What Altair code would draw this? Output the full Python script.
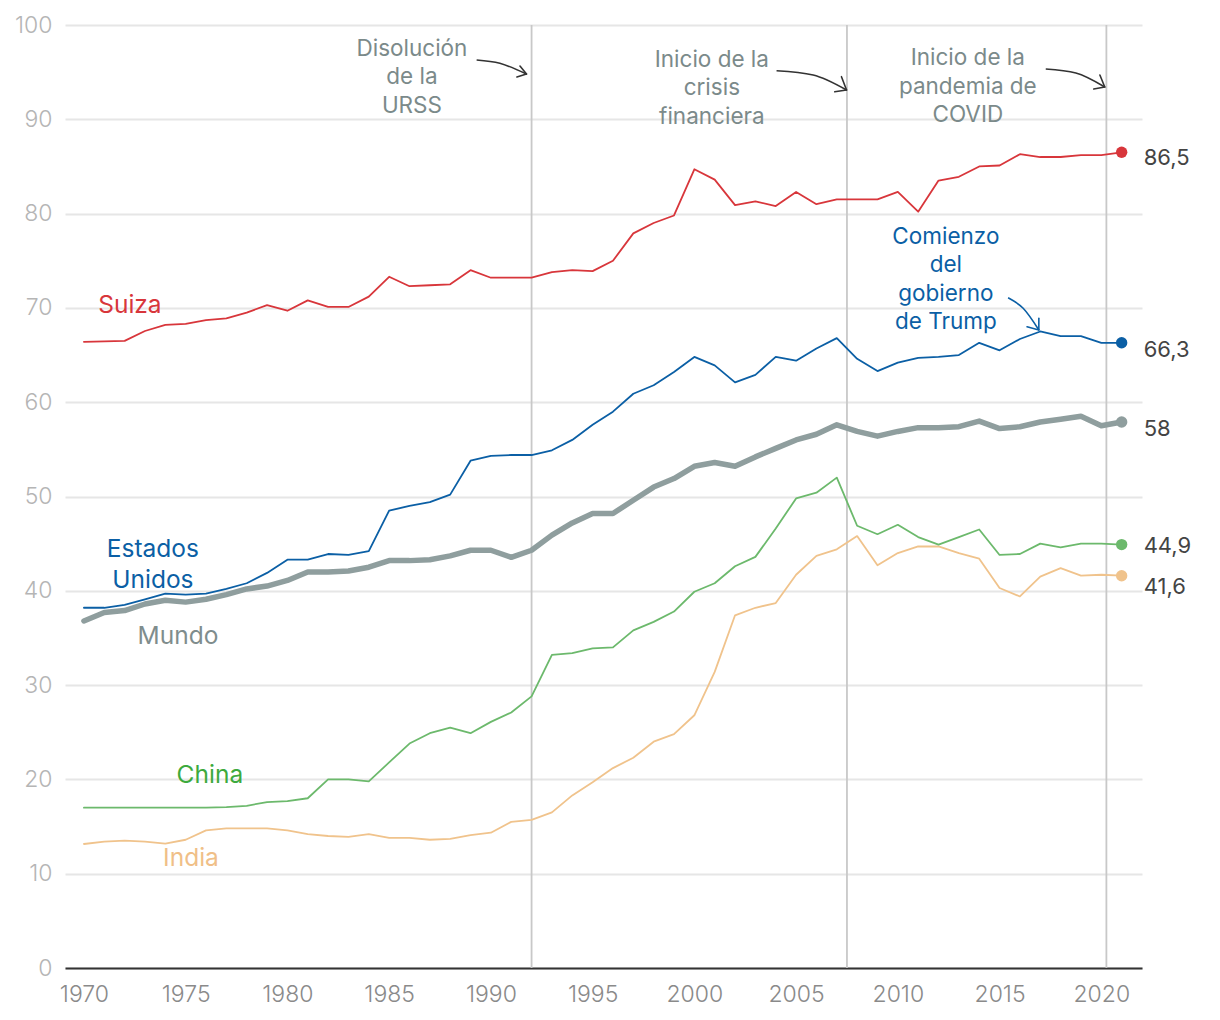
import altair as alt
import pandas as pd

years = list(range(1970, 2022))

suiza = [66.4, 66.45, 66.5, 67.55, 68.2, 68.3, 68.7, 68.9, 69.5, 70.3,
         69.7, 70.8, 70.1, 70.1, 71.2, 73.3, 72.3, 72.4, 72.5, 74.0,
         73.2, 73.2, 73.2, 73.8, 74.0, 73.9, 75.0, 77.9, 79.0, 79.8,
         84.7, 83.6, 80.9, 81.3, 80.8, 82.3, 81.0, 81.5, 81.5, 81.5,
         82.3, 80.2, 83.5, 83.9, 85.0, 85.1, 86.3, 86.0, 86.0, 86.2,
         86.2, 86.5]
usa = [38.2, 38.2, 38.5, 39.1, 39.7, 39.6, 39.7, 40.2, 40.8, 41.9,
       43.3, 43.3, 43.9, 43.8, 44.2, 48.5, 49.0, 49.4, 50.2, 53.8,
       54.3, 54.4, 54.4, 54.9, 56.0, 57.6, 59.0, 60.9, 61.8, 63.2,
       64.8, 63.9, 62.1, 62.9, 64.8, 64.4, 65.7, 66.8, 64.6, 63.3,
       64.2, 64.7, 64.8, 65.0, 66.3, 65.5, 66.7, 67.5, 67.0, 67.0,
       66.3, 66.3]
mundo = [36.8, 37.7, 37.9, 38.6, 39.0, 38.8, 39.1, 39.6, 40.2, 40.5,
         41.1, 42.0, 42.0, 42.1, 42.5, 43.2, 43.2, 43.3, 43.7, 44.3,
         44.3, 43.55, 44.3, 45.9, 47.2, 48.2, 48.2, 49.6, 51.0, 51.9,
         53.2, 53.6, 53.2, 54.2, 55.1, 56.0, 56.6, 57.6, 56.9, 56.4,
         56.9, 57.3, 57.3, 57.4, 58.0, 57.2, 57.4, 57.9, 58.2, 58.5,
         57.5, 57.9]
china = [17.0, 17.0, 17.0, 17.0, 17.0, 17.0, 17.0, 17.05, 17.2, 17.6,
         17.7, 18.0, 20.0, 20.0, 19.8, 21.8, 23.8, 24.9, 25.5, 24.9,
         26.1, 27.1, 28.8, 33.2, 33.4, 33.9, 34.0, 35.8, 36.7, 37.8,
         39.9, 40.8, 42.6, 43.6, 46.6, 49.8, 50.4, 52.0, 46.9, 46.0,
         47.0, 45.7, 44.9, 45.7, 46.5, 43.8, 43.9, 45.0, 44.6, 45.0,
         45.0, 44.9]
india = [13.15, 13.4, 13.5, 13.4, 13.2, 13.6, 14.6, 14.8, 14.8, 14.8,
         14.6, 14.2, 14.0, 13.9, 14.2, 13.8, 13.8, 13.6, 13.7, 14.1,
         14.35, 15.5, 15.7, 16.5, 18.3, 19.7, 21.2, 22.3, 24.0, 24.8,
         26.8, 31.4, 37.4, 38.2, 38.7, 41.7, 43.7, 44.4, 45.8, 42.7,
         44.0, 44.7, 44.7, 44.0, 43.4, 40.3, 39.4, 41.5, 42.4, 41.6,
         41.7, 41.6]

end_labels = ["86,5", "66,3", "58", "44,9", "41,6"]

series_names = ["India", "China", "Mundo", "Estados Unidos", "Suiza"]
series_values = [india, china, mundo, usa, suiza]
series_colors = ["#f0c38c", "#6cb96c", "#8f9e9e", "#0b5fa5", "#d8363b"]
label_colors = ["#f0bf88", "#3daa3d", "#7f8d8d", "#0b5fa5", "#d8363b"]
series_widths = [1.8, 1.8, 5.5, 1.8, 1.8]

# series name labels: text, year, value (value = first line centre)
name_text = ["India", "China", "Mundo", "Estados\nUnidos", "Suiza"]
name_year = [1975.26, 1976.19, 1974.62, 1973.39, 1972.26]
name_val = [11.56, 20.36, 35.1, 44.33, 70.2]

# events
event_years = [1992.0, 2007.5, 2020.25]
event_text = ["Disolución\nde la\nURSS", "Inicio de la\ncrisis\nfinanciera",
              "Inicio de la\npandemia de\nCOVID"]
event_text_year = [1986.12, 2000.86, 2013.44]
event_text_val = [97.46, 96.29, 96.50]

trump_text = "Comienzo\ndel\ngobierno\nde Trump"
trump_year = 2012.36
trump_val = 77.52

# arrows: curve points (year, value), arrowhead arms
arrow_curves = [
    [(1989.30, 96.29), (1990.44, 95.94), (1991.75, 94.80)],
    [(2004.04, 95.15), (2005.84, 94.70), (2007.48, 93.11)],
    [(2017.27, 95.33), (2018.75, 94.91), (2020.17, 93.43)],
    [(2015.42, 71.08), (2016.16, 69.96), (2016.93, 67.66)],
]
arrow_arms = [
    [(1991.43, 95.65), (1991.28, 94.49)],
    [(2007.23, 94.52), (2006.90, 92.92)],
    [(2019.93, 94.70), (2019.63, 93.21)],
    [(2016.93, 68.90), (2016.35, 68.00)],
]
arrow_colors = ["#333333", "#333333", "#333333", "#0b5fa5"]

FONT = "Inter"
X_DOMAIN = [1969.07, 2022.0]

xs = alt.Scale(domain=X_DOMAIN, nice=False, zero=False)
ys = alt.Scale(domain=[0, 100], nice=False)

x_axis = alt.Axis(values=list(range(1970, 2021, 5)), format="d", title=None,
                  labelFont=FONT, labelFontSize=23, labelFontWeight=300,
                  labelColor="#8a8a8a", domainColor="#333333", domainWidth=2,
                  ticks=False, grid=False, labelPadding=15, labelFlush=False)
y_axis = alt.Axis(values=list(range(0, 101, 10)), title=None,
                  labelFont=FONT, labelFontSize=23, labelFontWeight=300,
                  labelColor="#b5b5b5", ticks=False, domain=False,
                  grid=True, gridColor="#e6e6e6", gridWidth=2, labelPadding=13)

layers = []

base_df = pd.DataFrame({"year": years, "v": mundo})
layers.append(
    alt.Chart(base_df).mark_point(opacity=0).encode(
        x=alt.X("year:Q", scale=xs, axis=x_axis),
        y=alt.Y("v:Q", scale=ys, axis=y_axis),
    )
)

layers.append(
    alt.Chart(pd.DataFrame({"year": event_years})).mark_rule(
        color="#c8c8c8", strokeWidth=1.8
    ).encode(x=alt.X("year:Q", scale=xs), y=alt.value(0), y2=alt.value(943))
)

for name, vals, col, w in zip(series_names, series_values, series_colors, series_widths):
    df = pd.DataFrame({"year": years, "v": vals})
    layers.append(
        alt.Chart(df).mark_line(color=col, strokeWidth=w, strokeJoin="round",
                                strokeCap="round").encode(
            x=alt.X("year:Q", scale=xs), y=alt.Y("v:Q", scale=ys))
    )
    last = pd.DataFrame({"year": [years[-1]], "v": [vals[-1]]})
    layers.append(
        alt.Chart(last).mark_circle(color=col, opacity=1, size=130).encode(
            x=alt.X("year:Q", scale=xs), y=alt.Y("v:Q", scale=ys))
    )

end_order = [4, 3, 2, 1, 0]
end_dy = [6, 7, 7, 1, 11]
for lab, idx, dy in zip(end_labels, end_order, end_dy):
    df = pd.DataFrame({"year": [years[-1]], "v": [series_values[idx][-1]], "t": [lab]})
    layers.append(
        alt.Chart(df).mark_text(align="left", baseline="middle", dx=22, dy=dy,
                                font=FONT, fontSize=22, color="#444444").encode(
            x=alt.X("year:Q", scale=xs), y=alt.Y("v:Q", scale=ys), text="t:N")
    )

for t, yr, v, col in zip(name_text, name_year, name_val, label_colors):
    df = pd.DataFrame({"year": [yr], "v": [v], "t": [t]})
    layers.append(
        alt.Chart(df).mark_text(align="center", baseline="middle", font=FONT,
                                fontSize=24.5, color=col, lineBreak="\n",
                                lineHeight=31).encode(
            x=alt.X("year:Q", scale=xs), y=alt.Y("v:Q", scale=ys), text="t:N")
    )

for t, yr, v in zip(event_text, event_text_year, event_text_val):
    df = pd.DataFrame({"year": [yr], "v": [v], "t": [t]})
    layers.append(
        alt.Chart(df).mark_text(align="center", baseline="middle", font=FONT,
                                fontSize=22.5, color="#7b8a8a", lineBreak="\n",
                                lineHeight=28.5).encode(
            x=alt.X("year:Q", scale=xs), y=alt.Y("v:Q", scale=ys), text="t:N")
    )

df = pd.DataFrame({"year": [trump_year], "v": [trump_val], "t": [trump_text]})
layers.append(
    alt.Chart(df).mark_text(align="center", baseline="middle", font=FONT,
                            fontSize=22.5, color="#0b5fa5", lineBreak="\n",
                            lineHeight=28.5).encode(
        x=alt.X("year:Q", scale=xs), y=alt.Y("v:Q", scale=ys), text="t:N")
)

for curve, arms, col in zip(arrow_curves, arrow_arms, arrow_colors):
    cdf = pd.DataFrame({"year": [p[0] for p in curve], "v": [p[1] for p in curve]})
    layers.append(
        alt.Chart(cdf).mark_line(color=col, strokeWidth=1.6, interpolate="monotone").encode(
            x=alt.X("year:Q", scale=xs), y=alt.Y("v:Q", scale=ys))
    )
    tip = curve[-1]
    adf = pd.DataFrame({"year": [a[0] for a in arms], "v": [a[1] for a in arms],
                        "year2": [tip[0]] * len(arms), "v2": [tip[1]] * len(arms)})
    layers.append(
        alt.Chart(adf).mark_rule(color=col, strokeWidth=1.6, strokeCap="round").encode(
            x=alt.X("year:Q", scale=xs), y=alt.Y("v:Q", scale=ys),
            x2="year2:Q", y2="v2:Q")
    )

chart = alt.layer(*layers).properties(
    width=1077, height=943,
    autosize=alt.AutoSizeParams(type="none"),
    padding={"left": 57, "top": 17, "right": 70, "bottom": 40},
).configure(font=FONT).configure_view(stroke=None)

chart.save("out.html", embed_options={"renderer": "svg", "actions": False})
